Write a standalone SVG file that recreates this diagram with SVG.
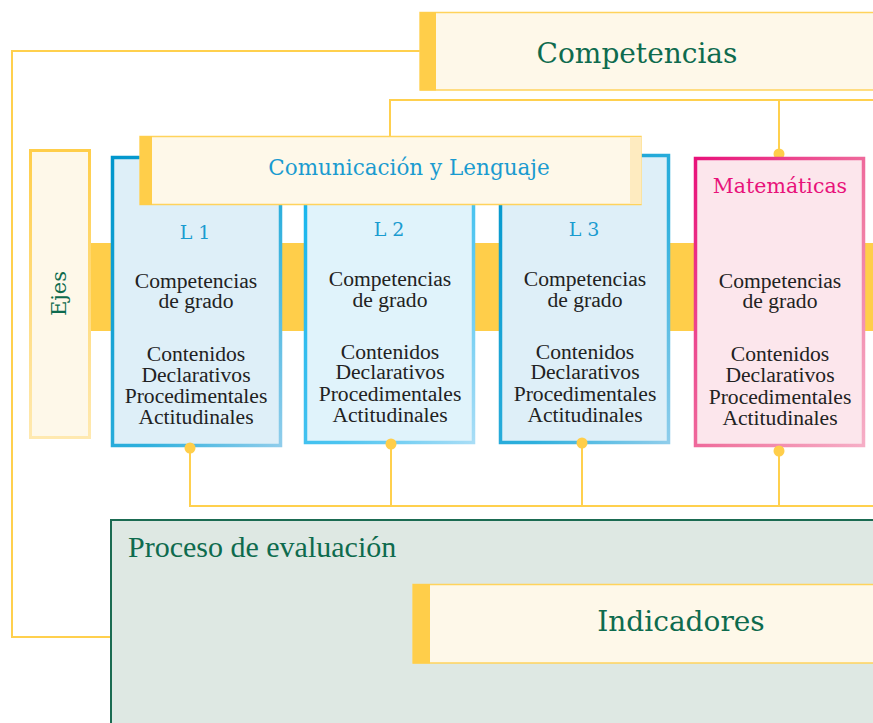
<svg xmlns="http://www.w3.org/2000/svg" width="873" height="723" viewBox="0 0 873 723">
<style>
.ln{fill:none;stroke:#FFD04E;stroke-width:2}
.dot{fill:#FFCE4A}
.cream{fill:#FEF8E9;stroke:#FFD35C;stroke-width:1.5}
.bar{fill:#FFCE4A}
.title{font-family:"DejaVu Serif",serif;fill:#0E6B4E}
.body{font-family:"Liberation Serif",serif;font-size:21.6px;fill:#222;text-anchor:middle}
.lab{font-family:"DejaVu Serif",serif;font-size:19px;fill:#1A9BD0;text-anchor:middle}
</style>
<defs>
<linearGradient id="gb1" x1="0" y1="0" x2="1" y2="1"><stop offset="0" stop-color="#0096CC"/><stop offset="0.6" stop-color="#2FB0DD"/><stop offset="1" stop-color="#8FCDEB"/></linearGradient>
<linearGradient id="gb2" x1="0" y1="0" x2="1" y2="1"><stop offset="0" stop-color="#12B4EC"/><stop offset="0.6" stop-color="#4CC4F0"/><stop offset="1" stop-color="#A8DDF6"/></linearGradient>
<linearGradient id="gm" x1="0" y1="0" x2="1" y2="1"><stop offset="0" stop-color="#E8127A"/><stop offset="0.6" stop-color="#F07AA2"/><stop offset="1" stop-color="#F6AEC6"/></linearGradient>
<linearGradient id="gy" x1="0" y1="0" x2="0" y2="1"><stop offset="0" stop-color="#FFCE4A"/><stop offset="1" stop-color="#FFE9B0"/></linearGradient>
</defs>
<rect x="90" y="243" width="783" height="88" fill="#FFCE4A"/>
<g id="connectors">
<polyline class="ln" points="420,51 12,51 12,637 110,637"/>
<polyline class="ln" points="390,136 390,100 873,100"/>
<line class="ln" x1="779" y1="100" x2="779" y2="154"/>
<circle class="dot" cx="779" cy="154" r="5.5"/>
<polyline class="ln" points="190,448 190,506 873,506"/>
<line class="ln" x1="391" y1="444" x2="391" y2="506"/>
<line class="ln" x1="582" y1="443" x2="582" y2="506"/>
<line class="ln" x1="779" y1="451" x2="779" y2="506"/>
</g>
<g id="competencias">
<rect class="cream" x="420" y="12.5" width="460" height="77.5"/>
<rect class="bar" x="420" y="12" width="16" height="78.5"/>
<text class="title" x="637" y="63" font-size="28" text-anchor="middle">Competencias</text>
</g>
<g id="ejes">
<rect x="30.5" y="150.5" width="59" height="287" fill="#FEF8E9" stroke="url(#gy)" stroke-width="3"/>
<text class="title" font-size="21" text-anchor="middle" transform="translate(66,293.5) rotate(-90)">Ejes</text>
</g>
<g id="l1">
<rect x="112.5" y="157.5" width="168" height="288" fill="#DEEFF8" stroke="url(#gb1)" stroke-width="3.5"/>
<text class="lab" x="195" y="239">L 1</text>
<text class="body" x="196" y="288">Competencias</text>
<text class="body" x="196" y="308">de grado</text>
<text class="body" x="196" y="361">Contenidos</text>
<text class="body" x="196" y="382">Declarativos</text>
<text class="body" x="196" y="403">Procedimentales</text>
<text class="body" x="196" y="424">Actitudinales</text>
<circle class="dot" cx="190" cy="448" r="5.5"/>
</g>
<g id="l2">
<rect x="305.5" y="157.5" width="168" height="285" fill="#E0F3FB" stroke="url(#gb2)" stroke-width="3.5"/>
<text class="lab" x="389" y="236">L 2</text>
<text class="body" x="390" y="286">Competencias</text>
<text class="body" x="390" y="307">de grado</text>
<text class="body" x="390" y="359">Contenidos</text>
<text class="body" x="390" y="379">Declarativos</text>
<text class="body" x="390" y="401">Procedimentales</text>
<text class="body" x="390" y="422">Actitudinales</text>
<circle class="dot" cx="391" cy="444" r="5.5"/>
</g>
<g id="l3">
<rect x="500.5" y="155.5" width="168" height="287" fill="#DEEFF8" stroke="url(#gb1)" stroke-width="3.5"/>
<text class="lab" x="584" y="236">L 3</text>
<text class="body" x="585" y="286">Competencias</text>
<text class="body" x="585" y="307">de grado</text>
<text class="body" x="585" y="359">Contenidos</text>
<text class="body" x="585" y="379">Declarativos</text>
<text class="body" x="585" y="401">Procedimentales</text>
<text class="body" x="585" y="422">Actitudinales</text>
<circle class="dot" cx="582" cy="443" r="5.5"/>
</g>
<g id="matematicas">
<rect x="695.5" y="158.5" width="168" height="287" fill="#FCE6EC" stroke="url(#gm)" stroke-width="3.5"/>
<text x="780" y="193" font-family="DejaVu Serif,serif" font-size="20.5" fill="#E8127A" text-anchor="middle">Matemáticas</text>
<text class="body" x="780" y="288">Competencias</text>
<text class="body" x="780" y="308">de grado</text>
<text class="body" x="780" y="361">Contenidos</text>
<text class="body" x="780" y="382">Declarativos</text>
<text class="body" x="780" y="404">Procedimentales</text>
<text class="body" x="780" y="425">Actitudinales</text>
<circle class="dot" cx="779" cy="451" r="5.5"/>
</g>
<g id="comunicacion">
<rect class="cream" x="140" y="136.5" width="501" height="68"/>
<rect x="630" y="137" width="11.5" height="67" fill="#FEEBC0"/>
<rect class="bar" x="140" y="136" width="12" height="69"/>
<text x="409" y="175" font-family="DejaVu Serif,serif" font-size="21.5" fill="#1A9BD0" text-anchor="middle">Comunicación y Lenguaje</text>
</g>
<g id="proceso">
<rect x="111" y="520" width="770" height="210" fill="#DEE8E3" stroke="#1B6B52" stroke-width="2"/>
<text x="128" y="557" font-family="Liberation Serif,serif" font-size="30" fill="#0E6B4E">Proceso de evaluación</text>
</g>
<g id="indicadores">
<rect class="cream" x="413" y="584.5" width="470" height="78.5"/>
<rect class="bar" x="413" y="584" width="17" height="79.5"/>
<text class="title" x="681" y="631" font-size="28" text-anchor="middle">Indicadores</text>
</g>
</svg>
